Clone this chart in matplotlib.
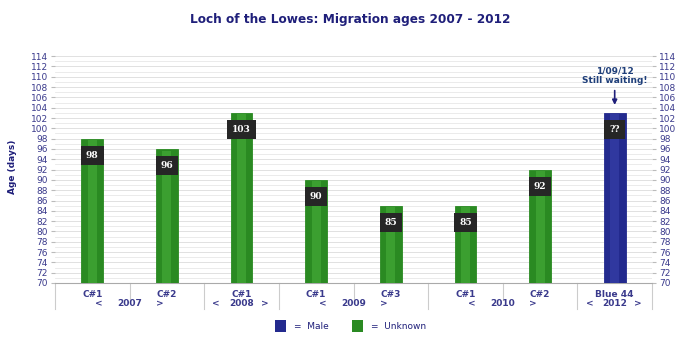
import matplotlib
matplotlib.use("Agg")
from matplotlib import pyplot as plt
from matplotlib.patches import Rectangle
import matplotlib.transforms as mtransforms

birds = ["C#1", "C#2", "C#1", "C#1", "C#3", "C#1", "C#2", "Blue 44"]
ages = [98, 96, 103, 90, 85, 85, 92, 103]
value_labels = ["98", "96", "103", "90", "85", "85", "92", "??"]
sex = ["Unknown", "Unknown", "Unknown", "Unknown", "Unknown", "Unknown", "Unknown", "Male"]
years = ["2007", "2008", "2009", "2010", "2012"]
year_groups = [(0, 1), (2, 2), (3, 4), (5, 6), (7, 7)]

navy = "#1f1f7a"
tick_col = "#3a3a8c"
colors = {"Unknown": "#2a8a22", "Male": "#232a8e"}
light = {"Unknown": "#4cb53f", "Male": "#3d46b0"}

fig = plt.figure(figsize=(7, 3.51), dpi=100)
ax = fig.add_axes([55 / 700, 68 / 351, 597 / 700, 232 / 351])

ax.set_xlim(-0.5, len(ages) - 0.5)
ax.set_ylim(70, 115)

for i, (v, s) in enumerate(zip(ages, sex)):
    ax.bar(i, v - 70, bottom=70, width=0.29, color=colors[s], edgecolor=colors[s], lw=0.6, zorder=3)
    ax.bar(i, v - 70.3, bottom=70, width=0.12, color=light[s], alpha=0.5, lw=0, zorder=3)
    ax.text(i, v - 3.2, value_labels[i], ha="center", va="center", fontsize=6.5,
            fontweight="bold", family="DejaVu Serif", color="white", zorder=5,
            bbox=dict(boxstyle="square,pad=0.55", fc="#262626", ec="none"))

# grid lines
for y in range(70, 115):
    ax.axhline(y, color="#e8e8e8" if y % 2 else "#dcdcdc", lw=0.6, zorder=1)

ax.set_yticks(range(70, 115, 2))
ax.tick_params(axis="y", labelsize=6.5, labelcolor=tick_col, length=3, color="#bbbbbb",
               left=True, right=True, labelleft=True, labelright=True, pad=2)
ax.set_xticks([])
for side in ["top", "right", "left"]:
    ax.spines[side].set_visible(False)
ax.spines["bottom"].set_color("#aaaaaa")

ax.set_ylabel("Age (days)", fontsize=6.5, fontweight="bold", color=navy, labelpad=10)

trans = mtransforms.blended_transform_factory(ax.transData, ax.transAxes)
year_edges = set(g[1] for g in year_groups)
for i in range(len(ages) + 1):
    bottom = -0.11 if (i - 1) in year_edges or i == 0 else -0.075
    ax.plot([i - 0.5, i - 0.5], [0, bottom], color="#cccccc", lw=0.8, transform=trans, clip_on=False)

for i, b in enumerate(birds):
    ax.text(i, -0.05, b, ha="center", va="center", fontsize=6.5, fontweight="bold",
            color=tick_col, transform=trans)

for yr, (a, b) in zip(years, year_groups):
    if a == b:
        lt, gt = a - 0.34, b + 0.31
    else:
        lt, gt = a + 0.09, b - 0.1
    ax.text((a + b) / 2, -0.09, yr, ha="center", va="center", fontsize=6.5, fontweight="bold",
            color=tick_col, transform=trans)
    ax.text(lt, -0.09, "<", ha="center", va="center", fontsize=6.5, fontweight="bold",
            color=tick_col, transform=trans)
    ax.text(gt, -0.09, ">", ha="center", va="center", fontsize=6.5, fontweight="bold",
            color=tick_col, transform=trans)

# annotation on the last bar
ax.annotate("1/09/12\nStill waiting!", xy=(7, ages[7] + 1.0), xytext=(7, ages[7] + 5.4),
            ha="center", va="bottom", fontsize=6.5, fontweight="bold", color="#1f3f7a",
            linespacing=1.1,
            arrowprops=dict(arrowstyle="-|>", color=navy, lw=1.2, mutation_scale=7))

fig.text(0.5, 0.945, "Loch of the Lowes: Migration ages 2007 - 2012", ha="center", va="center",
         fontsize=8.7, fontweight="bold", color=navy)

# legend
for xl, key in [(0.393, "Male"), (0.503, "Unknown")]:
    fig.patches.append(Rectangle((xl, 0.055), 0.016, 0.032, transform=fig.transFigure,
                                 fc=colors[key], ec="none"))
    fig.text(xl + 0.027, 0.071, "=  " + key, ha="left", va="center", fontsize=6.5, color=navy)

fig.savefig("out.png", dpi=100)
